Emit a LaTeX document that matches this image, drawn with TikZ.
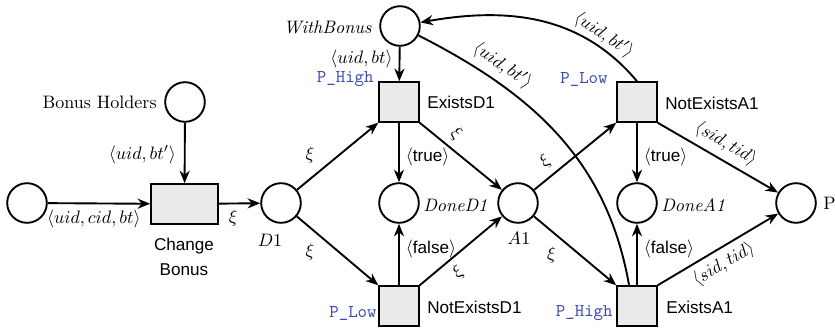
\documentclass[tikz,border=0pt]{standalone}
\usepackage{fontspec}
\newfontfamily\trfont{Liberation Sans}
\usetikzlibrary{arrows.meta}
\definecolor{prioblue}{RGB}{58,78,178}
\definecolor{transfill}{RGB}{234,234,234}
\newcommand{\tsf}[1]{{\trfont\fontsize{9.5}{11}\selectfont #1}}
\begin{document}
\begin{tikzpicture}[x=0.555pt,y=-0.555pt,
  place/.style={circle,draw,line width=1.05pt,minimum size=22pt,inner sep=0pt},
  trans/.style={rectangle,draw,line width=1.05pt,fill=transfill,minimum size=22pt,inner sep=0pt},
  arc/.style={line width=1.05pt,-{Stealth[length=7pt,width=5.6pt]}},
  plainarc/.style={line width=1.05pt},
  tname/.style={font=\trfont\fontsize{9.5}{13.5}\selectfont,inner sep=0pt},
  prio/.style={font=\ttfamily,text=prioblue,inner sep=0pt},
  txt/.style={inner sep=0pt}
]
\useasboundingbox (0,0) rectangle (835,329);

% places and transitions
\node[place] (src) at (27,203) {};
\node[place] (bh) at (185,102) {};
\node[trans,minimum width=37pt] (cb) at (184.5,204) {};
\node[place] (d1) at (281,203) {};
\node[place] (wb) at (400,26) {};
\node[trans] (ed1) at (399,102) {};
\node[place] (dd1) at (399,203) {};
\node[trans] (ned1) at (399,306) {};
\node[place] (a1) at (518,203) {};
\node[trans] (nea1) at (637,102) {};
\node[place] (da1) at (637,203) {};
\node[trans] (ea1) at (637,306) {};
\node[place] (p) at (796,203) {};

% names of places
\node[txt,anchor=east] (bhl) at (157,102) {Bonus Holders};
\node[txt] (d1l) at (270,240) {$D1$};
\node[txt,anchor=east] (wbl) at (372,27) {\textit{WithBonus}};
\node[txt,anchor=west] (dd1l) at (423,205) {\textit{DoneD1}};
\node[txt] (a1l) at (519,238) {$A1$};
\node[txt,anchor=west] (da1l) at (661,205) {\textit{DoneA1}};
\node[txt,anchor=west] (pl) at (823,203) {P};

% names of transitions
\node[tname,align=center] (cbl) at (184,257) {Change\\Bonus};
\node[tname,anchor=west] (ed1l) at (427,102) {ExistsD1};
\node[tname,anchor=west] (ned1l) at (427,307) {NotExistsD1};
\node[tname,anchor=west] (nea1l) at (665,103) {NotExistsA1};
\node[tname,anchor=west] (ea1l) at (666,307) {ExistsA1};

% priorities
\node[prio,anchor=east] (ed1p) at (374,79) {P\_High};
\node[prio,anchor=east] (ned1p) at (377,313) {P\_Low};
\node[prio,anchor=east] (nea1p) at (608,79) {P\_Low};
\node[prio,anchor=east] (ea1p) at (613,313) {P\_High};

% arcs around Change Bonus
\draw[arc] (src) -- node[below,pos=0.45] {$\langle uid, cid, bt\rangle$} (cb);
\draw[arc] (bh) -- node[left=1pt,pos=0.53] {$\langle uid, bt'\rangle$} (cb);
\draw[arc] (cb) -- node[below,pos=0.35] {$\xi$} (d1);

% D1 stage
\draw[arc] (d1) -- node[above left,pos=0.3] {$\xi$} (ed1.south west);
\draw[arc] (d1) -- node[below left,pos=0.3] {$\xi$} (ned1.north west);
\draw[arc] (wb) -- node[left,pos=0.36] {$\langle uid, bt\rangle$} (ed1);
\draw[arc] (ed1) -- node[right,pos=0.57] {$\langle$\tsf{true}$\rangle$} (dd1);
\draw[arc] (ned1) -- node[right,pos=0.59] {$\langle$\tsf{false}$\rangle$} (dd1);
\draw[arc] (ed1.south east) -- node[above,sloped,pos=0.33] {$\xi$} (a1);
\draw[arc] (ned1.north east) -- node[below,sloped,pos=0.35] {$\xi$} (a1);

% A1 stage
\draw[arc] (a1) -- node[above,sloped,pos=0.25] {$\xi$} (nea1.south west);
\draw[arc] (a1) -- node[below left,pos=0.35] {$\xi$} (ea1.north west);
\draw[arc] (nea1) -- node[right,pos=0.57] {$\langle$\tsf{true}$\rangle$} (da1);
\draw[arc] (ea1) -- node[right,pos=0.59] {$\langle$\tsf{false}$\rangle$} (da1);
\draw[arc] (nea1.south east) -- node[above,sloped,pos=0.5] {$\langle sid, tid\rangle$} (p);
\draw[arc] (ea1.north east) -- node[below,sloped,pos=0.48] {$\langle sid, tid\rangle$} (p);

% bonus place links
\draw[arc] (nea1.north) to[out=130,in=10]
  node[above,sloped,pos=0.22,inner sep=1pt] {$\langle uid, bt'\rangle$} (wb);
\draw[plainarc] (wb) to[out=-27,in=100]
  node[above,sloped,pos=0.24] {$\langle uid, bt'\rangle$} ([xshift=-4.4pt]ea1.north);
\end{tikzpicture}
\end{document}
